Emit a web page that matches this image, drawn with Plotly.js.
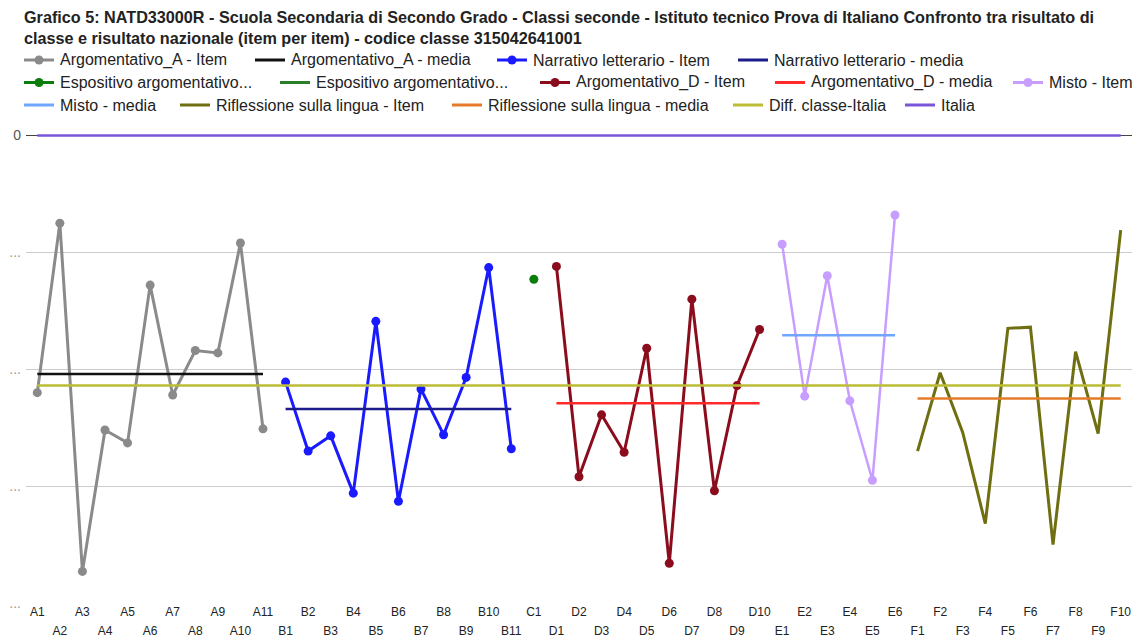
<!DOCTYPE html>
<html>
<head>
<meta charset="utf-8">
<script src="https://cdn.plot.ly/plotly-3.0.1.min.js"></script>
<style>html,body{margin:0;padding:0;background:#fff;}#chart{width:1136px;height:637px;}</style>
</head>
<body>
<div id="chart"></div>
<script>
// ---- categories ----
const catsA = ["A1","A2","A3","A4","A5","A6","A7","A8","A9","A10","A11"];
const catsB = ["B1","B2","B3","B4","B5","B6","B7","B8","B9","B10","B11"];
const catsC = ["C1"];
const catsD = ["D1","D2","D3","D4","D5","D6","D7","D8","D9","D10"];
const catsE = ["E1","E2","E3","E4","E5","E6"];
const catsF = ["F1","F2","F3","F4","F5","F6","F7","F8","F9","F10"];

// ---- series values ----
const argA_item  = [-22.0, -7.5, -37.3, -25.2, -26.3, -12.8, -22.2, -18.4, -18.6, -9.2, -25.1];
const argA_media = -20.4;
const narr_item  = [-21.1, -27.0, -25.7, -30.6, -15.9, -31.3, -21.7, -25.6, -20.7, -11.3, -26.8];
const narr_media = -23.4;
const espo_item  = [-12.3];
const espo_media = -12.3;
const argD_item  = [-11.2, -29.2, -23.9, -27.1, -18.2, -36.6, -14.0, -30.4, -21.4, -16.6];
const argD_media = -22.9;
const misto_item = [-9.3, -22.3, -12.0, -22.7, -29.5, -6.8];
const misto_media = -17.1;
const rifl_item  = [-27.0, -20.3, -25.4, -33.2, -16.5, -16.4, -35.0, -18.5, -25.5, -8.1];
const rifl_media = -22.5;
const diff_value = -21.4;
const italia_value = 0;

// ---- y tick labels ----
const yTickVals = [0, -10, -20, -30, -40];
const yTickText = ["0", "...", "...", "...", "..."];

const allCats = [].concat(catsA, catsB, catsC, catsD, catsE, catsF);

const colors = {
  argA: "#8a8a8a", argAm: "#111111",
  narr: "#1a1aff", narrm: "#1c1c8c",
  espo: "#0b7d0b", espom: "#2a7f2a",
  argD: "#8b0d1d", argDm: "#ff2b2b",
  misto: "#c79eff", mistom: "#6fa6ff",
  rifl: "#6f6f12", riflm: "#e57b2a",
  diff: "#bcbc36", italia: "#7a55d8"
};

function rep(v, n) { return new Array(n).fill(v); }

function itemTrace(name, cats, vals, color, markers, width) {
  return {
    type: "scatter", name: name, x: cats, y: vals,
    mode: markers ? "lines+markers" : "lines",
    line: {color: color, width: width || 3},
    marker: {color: color, size: 9},
    hoverinfo: "skip", cliponaxis: false
  };
}
function mediaTrace(name, cats, v, color) {
  return {
    type: "scatter", name: name, x: cats, y: rep(v, cats.length),
    mode: "lines", line: {color: color, width: 2.5}, hoverinfo: "skip"
  };
}

const traces = [
  itemTrace("Argomentativo_A - Item", catsA, argA_item, colors.argA, true),
  mediaTrace("Argomentativo_A - media", catsA, argA_media, colors.argAm),
  itemTrace("Narrativo letterario - Item", catsB, narr_item, colors.narr, true),
  mediaTrace("Narrativo letterario - media", catsB, narr_media, colors.narrm),
  itemTrace("Espositivo argomentativo - Item", catsC, espo_item, colors.espo, true),
  mediaTrace("Espositivo argomentativo - media", catsC, espo_media, colors.espom),
  itemTrace("Argomentativo_D - Item", catsD, argD_item, colors.argD, true),
  mediaTrace("Argomentativo_D - media", catsD, argD_media, colors.argDm),
  itemTrace("Misto - Item", catsE, misto_item, colors.misto, true, 2.5),
  mediaTrace("Misto - media", catsE, misto_media, colors.mistom),
  itemTrace("Riflessione sulla lingua - Item", catsF, rifl_item, colors.rifl, false),
  mediaTrace("Riflessione sulla lingua - media", catsF, rifl_media, colors.riflm),
  mediaTrace("Diff. classe-Italia", allCats, diff_value, colors.diff),
  {type:"scatter", name:"Italia", x: allCats, y: rep(italia_value, allCats.length),
   mode:"lines", line:{color: colors.italia, width: 2.5}, hoverinfo:"skip", cliponaxis:false},
  // invisible helper so the second (odd-label) x axis is drawn
  {type:"scatter", name:"_axis2", x: allCats.map((c, i) => i), y: rep(italia_value, allCats.length),
   xaxis: "x2", mode: "lines", line: {width: 0}, opacity: 0, hoverinfo: "skip", showlegend: false}
];

// ---- layout geometry ----
const W = 1136, H = 637, L = 26, R = 4, T = 132, B = 34;
const pw = W - L - R, ph = H - T - B;
const fx = px => (px - L) / pw;
const fy = py => (H - B - py) / ph;

// ---- custom legend (Google-Charts style, flowing rows) ----
const legendItems = [
  {t:"Argomentativo_A - Item", c:colors.argA, m:true, x:24, r:0},
  {t:"Argomentativo_A - media", c:colors.argAm, m:false, x:255, r:0},
  {t:"Narrativo letterario - Item", c:colors.narr, m:true, x:497, r:0},
  {t:"Narrativo letterario - media", c:colors.narrm, m:false, x:738, r:0},
  {t:"Espositivo argomentativo...", c:colors.espo, m:true, x:24, r:1},
  {t:"Espositivo argomentativo...", c:colors.espom, m:false, x:280, r:1},
  {t:"Argomentativo_D - Item", c:colors.argD, m:true, x:540, r:1},
  {t:"Argomentativo_D - media", c:colors.argDm, m:false, x:775, r:1},
  {t:"Misto - Item", c:colors.misto, m:true, x:1013, r:1},
  {t:"Misto - media", c:colors.mistom, m:false, x:24, r:2},
  {t:"Riflessione sulla lingua - Item", c:colors.rifl, m:false, x:180, r:2},
  {t:"Riflessione sulla lingua - media", c:colors.riflm, m:false, x:452, r:2},
  {t:"Diff. classe-Italia", c:colors.diff, m:false, x:733, r:2},
  {t:"Italia", c:colors.italia, m:false, x:905, r:2}
];
const rowY = [60, 82.5, 105];

const shapes = [], annotations = [];
legendItems.forEach(it => {
  const y = rowY[it.r];
  shapes.push({type:"line", xref:"paper", yref:"paper",
    x0: fx(it.x), x1: fx(it.x + 30), y0: fy(y), y1: fy(y),
    line:{color: it.c, width: 3}});
  if (it.m) {
    const cx = it.x + 15, rr = 4.5;
    shapes.push({type:"circle", xref:"paper", yref:"paper",
      x0: fx(cx - rr), x1: fx(cx + rr), y0: fy(y + rr), y1: fy(y - rr),
      fillcolor: it.c, line:{color: it.c, width: 0}});
  }
  annotations.push({xref:"paper", yref:"paper", x: fx(it.x + 34), y: fy(y),
    xanchor:"left", yanchor:"middle", showarrow:false, text: it.t,
    font:{family:"Liberation Sans, Arial, sans-serif", size:16, color:"#222"}});
});

const evenIdx = allCats.map((c,i)=>i).filter(i => i % 2 === 0);
const oddIdx  = allCats.map((c,i)=>i).filter(i => i % 2 === 1);

const layout = {
  width: W, height: H,
  margin: {l: L, r: R, t: T, b: B, pad: 0},
  paper_bgcolor: "#fff", plot_bgcolor: "#fff",
  showlegend: false, hovermode: false,
  font: {family: "Liberation Sans, Arial, sans-serif", color: "#222"},
  title: {
    text: "Grafico 5: NATD33000R - Scuola Secondaria di Secondo Grado - Classi seconde - Istituto tecnico Prova di Italiano Confronto tra risultato di<br>classe e risultato nazionale (item per item) - codice classe 315042641001",
    x: 24 / W, xanchor: "left", xref: "container",
    y: 1 - 23 / H, yanchor: "top", yref: "container",
    font: {family: "Liberation Sans, Arial, sans-serif", size: 16.2, color: "#222", weight: "bold"}
  },
  xaxis: {
    type: "category", categoryorder: "array", categoryarray: allCats,
    range: [-0.5, allCats.length - 0.5], fixedrange: true,
    showgrid: false, zeroline: false, showline: false, ticks: "",
    tickmode: "array", tickvals: evenIdx.map(i => allCats[i]), ticktext: evenIdx.map(i => allCats[i]),
    tickfont: {size: 12, color: "#222"}, tickangle: 0
  },
  xaxis2: {
    type: "linear", overlaying: "x", anchor: "y", side: "bottom",
    range: [-0.5, allCats.length - 0.5], fixedrange: true,
    showgrid: false, zeroline: false, showline: false, ticks: "",
    tickmode: "array", tickvals: oddIdx, ticktext: oddIdx.map(i => allCats[i]),
    tickfont: {size: 12, color: "#222"}, tickangle: 0, ticklabelstandoff: 19
  },
  yaxis: {
    range: [-40, 0.3], fixedrange: true,
    tickmode: "array", tickvals: yTickVals,
    ticktext: yTickText.map((t,i)=> i===0 ? t : "<span style='color:#9a9a9a'>" + t + "</span>"),
    tickfont: {size: 14, color: "#555"},
    showgrid: true, gridcolor: "#cccccc", gridwidth: 1,
    zeroline: true, zerolinecolor: "#444", zerolinewidth: 1,
    showline: false, ticks: "", ticklabelstandoff: 4
  },
  shapes: shapes,
  annotations: annotations
};

Plotly.newPlot("chart", traces, layout, {staticPlot: true, displayModeBar: false});
</script>
</body>
</html>
